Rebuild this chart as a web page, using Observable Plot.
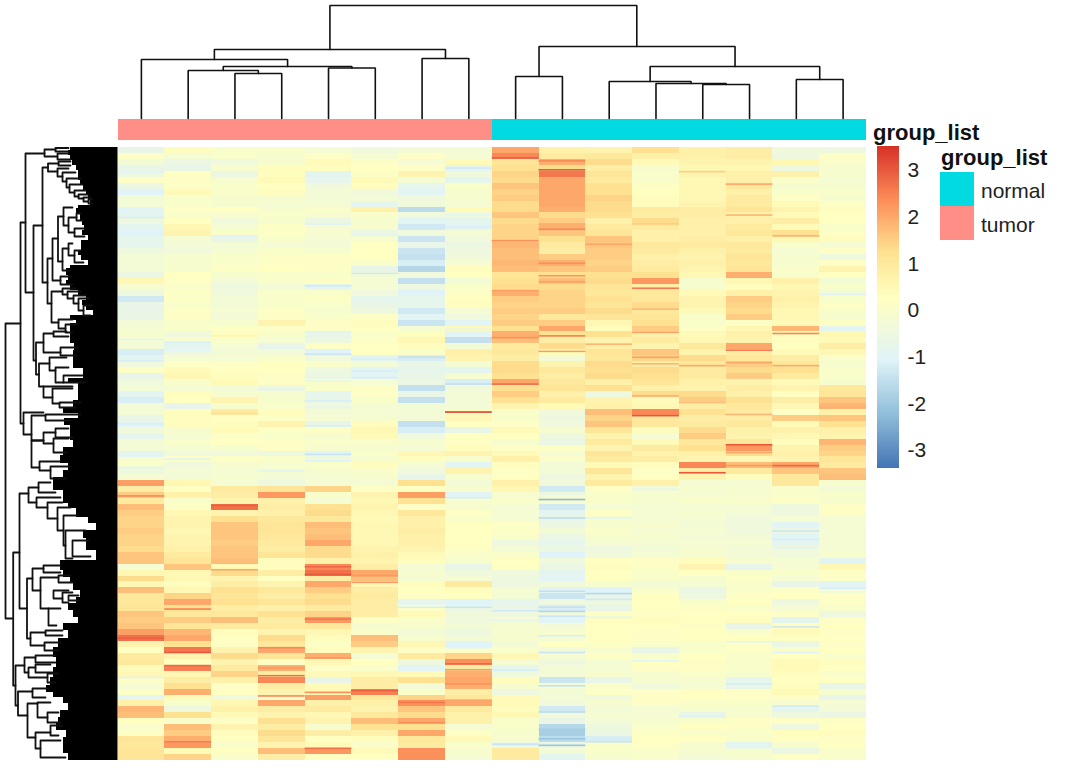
<!DOCTYPE html>
<html><head><meta charset="utf-8">
<script src="https://cdn.jsdelivr.net/npm/d3@7"></script>
<script src="https://cdn.jsdelivr.net/npm/@observablehq/plot@0.6"></script>
<style>
html,body{margin:0;padding:0;background:#fff}
#chart{position:relative;width:1080px;height:771px;overflow:hidden;font-family:"Liberation Sans",Arial,sans-serif;color:#111}
.t{position:absolute;white-space:nowrap}
.b{font-weight:bold;font-size:22px;line-height:24px;color:#111}
.l{font-size:21px;line-height:24px;color:#222}
.s{position:absolute;left:940px;width:34px;height:34px}
</style></head><body><div id="chart">
<div class="t b" style="left:873px;top:121px">group_list</div>
<div class="t b" style="left:941px;top:146px">group_list</div>
<div class="s" style="top:172px;background:#00DAE0"></div>
<div class="s" style="top:206px;background:#FF8E86"></div>
<div class="t l" style="left:981px;top:179px">normal</div>
<div class="t l" style="left:981px;top:213px">tumor</div>
</div>
<script>
// Heatmap columns, left to right; each has 103 rows, top to bottom (z-scored expression).
const c0=[-0.7,0.1,-0.3,-0.7,-0.5,0.1,-0.6,-1.1,-0.3,-0.3,
-1.0,-0.9,-0.5,-0.9,-1.1,-0.8,-0.8,-0.5,-0.3,-0.3,
-0.3,-0.6,0.5,-0.1,-0.5,-1.3,-0.7,-0.7,-0.7,-0.3,
-0.2,-0.1,-0.2,-0.3,-1.2,-0.9,-0.4,0.1,-0.7,-0.4,
-0.3,-0.9,-1.2,-0.3,-0.3,-0.7,-1.0,-0.4,-0.8,-0.3,
-0.3,-0.9,-0.1,0,-0.5,-0.2,
2.1,0.8,1.5,0.9,1.7,1.5,1.4,1.4,1.5,1.4,
1.4,1.3,1.6,1.6,-0.2,0.5,1.3,0.5,1.7,1.0,
1.0,1.1,1.6,1.5,1.6,2.1,2.7,0.6,0.2,0.9,
1.0,0.4,0.5,0.1,-0.2,0.1,-0.8,0.7,1.8,1.7,
0.2,0,0.1,1.1,1.0,1.1,1.1];
const c1=[0.3,-0.2,-0.6,-0.7,0.2,0.1,0.1,0.4,0,0,
0.1,0,0.2,0.5,0.6,-0.2,-0.3,-0.4,-0.1,-0.1,
-0.1,0.2,0.1,0,0.1,0.1,0,0.1,0.1,0,
0,-0.4,-0.1,-0.9,-0.5,-0.2,0.1,0.4,0.5,0,
-0.2,0.3,0.2,-0.7,0.3,0.3,0.3,-0.1,-0.2,0,
-0.2,-0.4,0.1,-0.4,-0.3,-0.3,
0.5,0.2,0.7,0,0.1,0.5,0.6,0.6,0.5,0.6,
0.6,0.7,0.9,1.1,1.6,0.5,0.5,0.3,0.5,1.4,
2.0,1.2,1.0,1.5,1.1,1.8,2.0,1.2,2.6,0.6,
0.2,2.5,0.5,0.8,1.2,1.9,0.4,0,-0.5,1.2,
0,1.7,1.5,1.9,2.2,0.4,1.4];
const c2=[0,0,-0.4,-0.1,-0.6,-0.1,0,0,-0.1,-0.1,
0.2,-0.1,-0.4,-0.2,0,-0.7,-0.3,-0.2,0,0,
0.1,-0.1,-0.3,-0.5,-0.4,-0.3,-0.3,-0.2,-0.3,-0.1,
0.1,0.3,0,-0.2,-0.3,-0.2,0.1,0.2,0.3,0.4,
-0.3,-0.1,0.6,-0.1,0.9,0.2,0.3,0.4,0.1,0.2,
-0.1,-0.4,0.1,-0.1,-0.2,-0.1,
-0.2,0.9,0.8,0.6,2.7,0.6,1.2,1.6,1.6,1.6,
1.5,1.6,1.6,1.7,0.4,1.3,0.6,0.8,1.2,1.1,
1.2,0.8,1.0,1.7,0.9,0.3,0.2,0.1,0.6,1.3,
0.6,0.9,1.4,0.7,0.1,0.2,-0.4,0.5,0.7,0.4,
0.1,0.6,0.3,0.2,0,0.2,0];
const c3=[0,-0.1,-0.1,0.3,0.3,0.4,0.2,0.3,-0.1,-0.2,
-0.1,0,-0.1,0.1,0.1,0,-0.2,0,0.1,0.1,
0.2,0,0,-0.3,0,0,0,0.1,0.1,0.6,
0.1,0,-0.2,-0.7,-0.3,0,0.2,0.2,0.1,0.1,
-0.5,-0.1,-0.1,0,0.3,0.1,0.6,0.1,0,0.1,
0.1,-0.5,0,-0.1,-0.1,-0.3,
-0.5,1.1,2.2,0.7,0.8,0.7,1.0,1.1,1.1,1.0,
0.9,0.8,1.1,0.3,0.3,0.8,0.2,0.6,1.0,0.8,
1.1,0.7,1.2,0.8,0.9,0.6,1.3,1.0,2.0,1.1,
0.1,1.9,0.8,2.4,0.8,0.6,-0.1,2.0,0.8,0.6,
1.2,0.8,1.3,1.1,0.6,1.7,0.8];
const c4=[-0.2,0.1,0.4,0.3,-0.9,-0.8,-0.4,-0.3,-0.3,-0.2,
0,-0.1,-0.6,-0.2,-0.1,-0.2,-0.3,-0.1,0.1,0.1,
0.1,0,0.1,-0.8,0,0.1,0,-0.1,0,0.1,
0.1,-0.7,-0.5,0.1,-1.1,-0.4,0,-0.5,-0.6,0,
0,-0.8,-0.7,-0.4,-0.3,-0.2,-0.7,0.1,-0.1,0,
-0.1,-1.1,-0.5,0,-0.1,-0.2,
-0.2,1.4,0,-0.2,1.2,1.3,1.0,1.7,1.6,1.7,
2.0,1.3,1.3,0.7,2.4,2.7,0.8,2.0,1.5,1.2,
1.3,0.9,1.4,2.2,1.0,0.5,0.3,0.1,0.3,1.9,
0.5,0.1,0.4,-0.7,0.4,0.5,2.1,0.7,0.9,0.5,
0.6,-0.1,0.8,0.2,0.4,2.2,0.2];
const c5=[-0.4,-0.2,0.1,0.2,0.1,0.4,0.3,-0.4,-0.3,-0.7,
0.7,0,-0.1,-0.1,-0.6,-0.1,0.2,0.2,0.2,0,
-0.7,-0.3,-0.2,-0.2,-0.4,-0.8,-0.7,-0.5,0.1,0.3,
0.2,0,0.1,0.2,0.2,-0.9,-0.3,-1.0,-1.0,-0.2,
0.1,0.1,0,-0.2,-0.2,-0.1,0.3,0.5,0.4,0,
-0.1,0,-0.1,0.3,0,-0.1,
-0.2,0.1,0.6,0.5,0.6,0.5,0.4,0.5,0.5,0.5,
0.5,0.6,0.7,0.6,0.8,2.0,1.7,0.5,0.8,0.9,
0.8,0.8,0.8,0.1,-0.1,0,1.7,1.5,0.6,-0.2,
0.2,0,0.5,0.8,0.8,2.5,1.0,0.7,0.6,1.0,
1.7,1.2,0.7,0.3,0,0.4,0.2];
const c6=[-0.3,0.1,-0.2,0.1,0.6,-0.2,-0.8,-1.0,-0.4,-0.4,
-1.6,-0.4,-1.0,-1.3,-0.4,-1.4,-0.7,-1.4,-1.5,-1.2,
-1.7,-0.4,-1.5,-0.5,-1.1,-0.8,-0.8,-1.3,-1.0,-1.4,
-0.2,0.3,0.5,0.3,0,-1.2,-0.7,-0.8,-0.7,-0.6,
-1.5,-0.7,-1.5,-0.3,-0.3,-0.3,-1.5,-1.2,-0.4,-0.1,
-0.2,0.5,0.3,-0.2,-0.4,-0.7,
1.2,0.2,2.1,1.2,0.1,1.0,0.7,0.7,0.8,0.7,
0.7,0.6,0.4,0.3,-0.2,-0.1,-0.2,0.3,0.2,0.1,
-0.8,0.1,0.4,0,-0.1,-0.3,-0.1,0.5,0.1,0.9,
-0.5,-1.0,0.4,1.2,-0.3,0,1.4,2.3,1.6,1.3,
2.0,1.2,2.0,1.0,0.9,2.3,2.3];
const c7=[-0.3,-0.2,0.4,-0.9,-0.4,-0.8,0,-0.1,-0.1,-0.2,
0.4,-0.4,-0.9,-1.0,-0.3,-0.4,-0.6,-0.5,-0.4,-0.2,
0.3,0.2,-0.3,0,0.1,0.2,0.3,-0.2,-0.4,-1.0,
0.4,-1.0,-1.5,-0.3,0.7,0.6,-0.2,-0.9,-0.1,-1.2,
-0.4,-0.3,-0.3,-0.3,0.3,0.5,0.2,-0.7,0.2,0.1,
0.3,0.6,-0.1,-1.0,0.6,-0.1,
-0.3,-0.1,-1.0,-0.1,-0.1,0.1,0,0.2,0.2,0.2,
0.2,0.1,0,-0.1,-0.7,-0.4,-0.2,0.9,0.3,0.2,
-1.1,-0.6,-0.4,-0.4,-0.3,-0.5,-0.3,-1.1,0.1,1.4,
2.3,0.8,1.9,2.0,1.9,0.8,1.0,2.0,0.9,0.7,
0.7,-0.2,0.1,0.4,0,-0.1,-0.2];
const c8=[2.0,2.4,1.1,1.2,1.4,1.3,1.6,1.4,1.5,1.3,
1.3,1.6,1.3,1.4,1.4,1.4,1.8,1.7,1.7,1.8,
1.7,1.1,1.2,1.3,1.9,1.5,1.4,1.5,1.4,1.5,
1.2,1.9,1.7,0.9,1.0,0.8,1.3,1.3,1.2,2.0,
1.2,1.5,1.2,0.6,0,0,0.1,0.4,0.2,-0.1,
0.1,0.4,0.7,0.3,0.1,0.2,
0.7,0.5,-0.1,0,-0.2,-0.2,-0.2,0.1,0.1,0,
-0.5,-0.3,0,0.2,0.2,-0.4,-0.5,-0.5,-0.2,-0.3,
-0.8,-0.7,-0.5,-0.2,-0.1,-0.1,-0.1,-0.3,0,0.5,
-0.2,-0.8,-0.4,0.3,-0.1,-0.5,0.4,0.4,0.3,0.5,
0,0,-0.1,-0.1,-0.6,0.9,0.9];
const c9=[0.7,0.9,1.9,1.3,2.6,2.0,2.0,2.0,2.0,2.0,
1.9,1.3,1.5,1.9,1.6,1.2,0.9,0.8,1.5,1.9,
1.6,1.2,1.7,1.3,1.4,1.4,1.4,1.5,1.0,1.5,
2.0,1.2,0.8,1.3,0.3,-0.3,0.6,1.0,0.8,1.0,
1.1,0.7,0.9,0.4,-0.4,-0.5,-0.4,-0.1,-0.5,-0.6,
0.1,-0.2,0,-0.3,-0.3,-0.5,
-0.4,-1.3,-0.3,-0.1,-1.3,-0.9,-0.7,-0.6,-0.3,-0.6,
-0.8,-0.6,-1.1,-0.4,-0.6,-0.9,-1.0,-0.4,-1.0,-1.4,
-0.5,-1.2,-0.4,-1.0,-0.3,-0.1,-0.2,0.2,-0.4,-0.2,
-0.5,-0.3,-0.3,-1.4,-0.2,-0.3,-0.3,-0.4,-1.3,-0.4,
-0.7,-1.7,-1.9,-1.6,-0.6,-0.3,-0.9];
const c10=[0.6,1.0,1.3,0.8,1.1,0.9,1.2,1.2,1.4,1.3,
1.3,1.2,0.7,0.9,1.1,1.6,1.6,1.5,1.5,1.4,
1.5,1.2,1.3,1.1,1.0,1.2,1.1,1.3,1.1,0.5,
0.3,1.2,0.6,0.8,1.1,1.0,1.3,1.2,1.3,0.7,
1.2,-0.5,0.6,0.7,1.7,1.4,1.6,1.1,0.6,0.9,
0.6,1.1,0.9,0.4,1.1,0.6,
0.9,0.1,0,0,-0.2,0.1,0,-0.1,0,-0.1,
-0.2,-0.5,-0.4,0.2,0.3,0.2,0.2,-0.1,-1.1,-0.8,
-0.5,-0.7,0.1,0.3,0.2,0.2,0.2,0.1,-0.1,0.1,
-0.2,-0.2,-0.1,-0.7,0,0.1,-0.4,-0.1,-0.3,-0.2,
-0.3,-0.5,-0.6,-1.2,0,0,-0.1];
const c11=[1.2,0.7,0.4,-0.1,0,0,0.1,0.2,0.3,0.3,
0.9,0.8,1.3,0.9,0.7,0.7,1.0,0.9,0.7,0.8,
0.9,1.2,2.2,0.8,1.0,1.0,1.3,1.0,1.1,1.2,
1.5,0.7,0.9,0.6,1.6,1.4,0.8,1.3,1.2,1.1,
0.7,1.3,0.4,0.5,2.4,1.0,1.0,0.3,-0.2,0.4,
0.9,0.6,0.8,0.3,0.1,0.2,
0.7,-0.3,-0.1,-0.1,-0.2,-0.2,-0.2,-0.1,-0.2,-0.1,
-0.2,-0.3,-0.2,0.1,0.1,0,0,-0.3,0,0.2,
0.2,0.2,0.1,0.3,0.2,0.1,0.1,0,-0.7,0,
0.2,0.1,-0.1,-0.1,-0.4,0.1,0.1,0.1,-0.2,-0.2,
-0.1,0,0.1,0.2,0.1,0,0];
const c12=[0.7,0.7,0.6,0.5,0.6,0.5,0.5,0.5,0.5,0.6,
0.8,0.8,0.7,0.7,0.7,0.8,0.9,0.7,0.6,0.7,
0.6,0.5,-0.1,-0.1,0.4,0.6,0.6,0.4,0,0,
0.1,0.4,0.5,1.0,0.6,1.3,1.0,0.9,0.9,0.7,
0.6,1.3,1.5,0.8,1.2,0.8,0.9,1.3,1.5,1.0,
1.2,0.7,0.6,2.4,0.8,0.6,
-0.2,-0.1,-0.2,0,-0.2,-0.1,-0.2,-0.3,-0.2,-0.3,
-0.2,-0.1,-0.1,0.3,0.6,0.2,-0.1,-0.2,-0.6,-0.5,
0,0.1,0.2,0.2,0.1,0.2,0.2,0,0,0.2,
0.1,0.1,0,-0.1,-0.2,0.2,0.2,0,-0.1,-0.7,
0,0.2,0,0.2,-0.1,-0.1,-0.3];
const c13=[0.8,0.8,0.6,0.5,0.7,0.7,1.0,0.7,0.9,0.9,
1.1,0.7,0.7,0.9,1.0,0.7,1.0,0.9,1.1,1.0,
1.1,1.9,0.5,0.3,0.7,1.5,1.4,1.3,1.5,0.1,
0.5,0.7,0.6,2.0,0.8,1.0,1.5,1.3,1.5,0.6,
0.8,0.7,1.2,1.0,0.9,0.8,1.0,0.7,0.6,1.0,
2.2,1.3,0.5,1.7,0.9,0.3,
-0.2,-0.1,-0.1,0,-0.2,-0.3,-0.4,-0.4,-0.4,-0.3,
-0.2,-0.3,-0.3,-0.1,-0.7,0,0.1,0,0,0.1,
0.2,0,0.2,0.3,-0.7,0,0.2,0.1,0.1,0,
0,0,-0.1,-0.8,-0.7,0.1,0.1,0,-0.1,-0.1,
0.1,0.1,0,0,-0.9,-0.1,-0.1];
const c14=[-0.4,-0.5,0.5,-0.5,0.7,0,-0.1,0,0.1,0.4,
0.6,0.4,0.8,0.4,1.2,0.5,0,-0.2,-0.1,-0.1,
0,0,0.7,0.5,0.6,0.7,0.6,0.5,0.5,0.4,
1.8,0.3,0.3,0.2,0.4,0.8,1.0,1.2,0.9,0.4,
0.6,0.2,0.8,0.5,0.1,1.5,0.4,0.7,0.5,0.3,
0.6,0.7,0.6,2.0,1.6,1.0,
1.0,0,0,0.1,-0.5,-0.5,-0.2,-1.0,-0.6,-1.0,
-0.9,-0.4,-0.4,-0.2,-0.2,0,-0.2,-0.7,0.1,0.2,
-0.5,-0.2,0.1,-0.9,0.3,0.4,0.2,-0.6,0,0.2,
0.4,0.4,0.3,0.2,0.3,0.4,0.1,-0.1,-0.9,-0.5,
0.1,-0.5,0.3,0.2,-0.1,-0.6,0.1];
const c15=[-0.5,0.1,0,-0.1,-0.1,-0.2,-0.1,0,-0.1,0.1,
0.3,0.2,0.2,0,0.1,0.3,-0.2,0.1,-0.5,0.1,
0.6,0.2,-0.3,0,-0.3,0,0.1,0,-0.1,0.1,
-0.8,0.5,0.4,0.8,0.5,0,-0.1,0,0,-0.1,
1.0,1.1,1.6,1.8,0.7,1.6,1.2,0.7,0.6,1.8,
1.5,1.4,1.1,0.9,1.6,1.7,
-0.1,-0.3,0,-0.1,0.1,0.1,-0.2,-0.2,-0.2,-0.2,
-0.2,-0.2,-0.1,-0.9,0.5,0.1,0.1,-1.0,-0.3,0.1,
0.1,0,-0.5,0.1,0.2,0.1,0.2,0.1,0.2,0,
0.3,0.2,0,0.2,-0.7,-0.1,-0.7,-0.2,-0.3,-0.6,
0.1,0.2,0.3,0.1,0.2,0,0];
const matrix=[c0,c1,c2,c3,c4,c5,c6,c7,c8,c9,c10,c11,c12,c13,c14,c15];

// Hairline rows: [column, row position, value]
const hairlines=[[7,44.4,3.3],[0,82.4,2.9],[1,84.8,3.0],[8,1.7,2.9],[9,3.7,3.0],[11,45,3.0],[11,23.6,2.6],
[12,54.6,3.0],[13,49.9,3.0],[13,34,2.6],[14,53.4,2.8],[2,60.1,2.9],[4,71.7,3.0],[5,91.2,2.9],[3,88.7,2.7],
[0,4.1,-1.0],[0,11.7,-1.2],[0,32.2,-0.9],[0,35.8,-1.2],[0,41.1,-1.0],[0,46.4,-1.2],[0,48.4,-1.0],[0,51.8,-1.1],[0,53.7,-1.0],
[1,32.7,-1.2],[1,34,-1.0],[1,43.6,-1.0],[1,52.3,-1.0],[2,14.8,-1.1],[2,31.6,0.6],[2,44.6,1.2],[3,33.6,-1.0],[3,40.6,-1.0],[3,54.3,-1.0],
[4,12.8,-1.1],[4,23.2,-1.3],[4,30.9,-1.1],[4,31.9,-0.8],[4,34.7,-1.4],[4,39.2,-0.8],[4,42.5,-1.2],[4,43.6,-1.0],[4,46.7,-1.2],[4,51.5,-1.4],[4,52.6,-1.1],
[5,9.5,-1.1],[5,14.7,-1.0],[5,21.1,-1.3],[5,35.5,-1.2],[5,37.5,-1.2],[5,38.6,-1.2],[6,35.2,-1.5],[6,55.5,-1.0],
[7,3.4,-1.3],[7,5.3,-1.1],[7,11.3,-0.9],[7,13.3,-1.2],[7,30.5,-1.1],[7,39.7,-1.5],
[8,15.6,2.3],[8,31.9,2.3],[8,39.7,2.7],[8,24,2.1],[9,2.2,2.4],[9,12.8,1.9],[9,13.7,2.4],[9,19.4,2.3],[9,21.5,2.2],[9,22.5,2.1],[9,31.6,2.5],[9,34.2,2.1],
[10,16.2,2.0],[10,33,1.8],[11,12.8,1.5],[11,35.2,2.1],[11,36.3,1.8],[11,41.7,1.9],[11,27.1,1.8],[11,31,2.1],[12,4,1.5],[12,36.6,2.0],[12,42.8,1.7],
[13,6.1,2.0],[13,11.3,1.8],[13,36.1,2.0],[13,44.8,1.8],[13,51.2,2.0],[13,53.4,2.2],[14,14.8,1.9],[14,31.2,2.4],[14,36.6,2.0],[15,24.6,-1.0],[15,30.3,-1.1],[15,43.6,1.9],
[0,89,-1.1],[0,92.1,-1.0],[0,58.5,2.4],[1,77.5,2.5],[1,87,2.8],[1,99.8,2.5],[2,70.9,2.0],[3,84,2.4],[3,87.4,2.2],[3,92.1,2.4],
[4,70.4,2.8],[4,79.2,2.6],[4,85.7,2.2],[4,91.5,2.3],[4,100.9,2.7],[5,71.9,2.2],[5,73,2.2],[6,77.2,-1.2],[6,87.2,-1.0],[6,93.2,2.6],[6,96.6,2.3],
[7,58.8,-1.2],[7,77.2,-1.4],[7,84,-1.1],[7,86.7,2.8],[7,87.7,2.2],[7,90.1,2.3],[7,92.8,2.0],
[8,77.8,-1.3],[8,87.8,-1.2],[8,100.2,-1.4],[8,79.4,-0.9],[9,58.1,-1.0],[9,59.1,-2.3],[9,62.2,-1.6],[9,74.5,-1.5],[9,77.2,-1.5],[9,77.9,-1.7],[9,78.7,-1.4],
[9,82,-1.2],[9,84.8,-1.4],[9,90.4,-1.5],[9,94.8,-1.6],[9,97.7,-1.9],[9,99.3,-2.1],[9,100.4,-2.1],[10,62.2,-1.0],[10,74.9,-1.7],[10,75.9,-1.3],[10,78.9,-1.1],[10,99.8,-1.4],
[11,57.4,-0.9],[11,86.2,-1.0],[12,95.5,-1.1],[13,70.8,-1.0],[13,83,-1.0],[13,90.1,-1.2],[13,100.8,-1.0],
[14,64.4,-1.4],[14,65.8,-1.2],[14,67.2,-1.1],[14,80.5,-1.4],[14,84.8,-1.1],[14,93.8,-1.3],[15,69.8,-1.1],[15,74,-1.2]];

const groupNames=["tumor","normal"];
const groupColumns=[[0,8],[8,16]];
const groupColors=["#FF8E86","#00DAE0"];

// Column dendrogram merges: [x1, h1, x2, h2, height]
const topMerges=[[2.5,0,3.5,0,45],[1.5,0,3,45,48],[4.5,0,5.5,0,50.5],[2.25,48,5,50.5,52],[0.5,0,3.625,52,59],
[6.5,0,7.5,0,60],[2.06,59,7,60,69],[8.5,0,9.5,0,42],[12.5,0,13.5,0,34],[11.5,0,13,34,35],[10.5,0,12.25,35,37],
[14.5,0,15.5,0,39],[11.375,37,15,39,52],[9,42,13.19,52,72],[4.53,69,11.09,72,113]];

// Row dendrogram merges: [leaf1, leaf2, depth, depth1, depth2]
const leftMerges=[[176,471,5,20,12.7],[75,276,20,25,23],[6,145,25,44,33],[2,9,44,55,57],[0.5,4,55,68,68],[6,12,57,68,70],
[78,213,33,42,35.5],[20,135,42,47.5,47],[16,24,47.5,58,57],[14,18,58,70,70],[21,29,57,68,62],[25,34,62,75,66],[31,40,66,80,69],
[37,45,69,82,74],[43,49,74,85,78],[47,51,78,88,83],[50,54,83,90,88],[52,56,88,92,92],[111,156,47,52,51],[91,133,52,57.5,60],
[69,114,57.5,63,62],[60,78,63,72,68],[70,85,68,76,74],[66,73,76,80,82],[81,89,74,84,84],[101,123,62,68,70],[96,108,68,72,74],
[103,115,74,80,83],[129,137,60,70,72],[144,175,51,62,58],[141,147,62,75,67],[144,151,67,80,73],[148,156,73,85,78],[151,163,78,88,83],
[158,168,83,92,90],[172,181,58,72,65],[177,185,65,78,72],[195,227,35.5,43,38.5],[186,205,43,53,60],[184,189,53,66,68],[200,208,60,78,76],
[216,239,38.5,49,43],[210,223,49,66,55],[220,235,55,68,63],[228,235,63,82,85],[239,250,43,72,52],[241,256,52,72,59],[255,260,59,80,75],
[265,287,23,43,31],[268,293,31,45,43],[293,320,31,43,39],[267,273,45,80,70],[285,296,43,55,53],[281,290,55,68,72],[291,305,53,68,66],
[314,323,39,60,50],[319,331,50,70,65],[405,538,12.7,19,15],[346,461,19,28,26.5],[340,355,28,38,36],[335,345,38,50,55],[350,360,36,60,47],
[355,371,47,62,57],[360,383,57,70,63],[368,398,63,78,65],[383,411,65,85,72],[393,409,72,88,90],[431,491,26.5,32,30],[421,443,32,43,40],
[418,425,43,60,60],[430,461,40,58,48],[428,435,58,70,72],[461,478,48,60,56],[443,451,53,68,62],[445,455,62,72,68],[448,453,68,78,78],
[485,498,30,45,44],[483,488,45,62,62],[495,503,44,60,58],[518,558,15,24,17.5],[510,525,24,35,28],[508,515,35,55,55],[520,530,28,35,47],
[517,525,35,50,52],[526,535,47,58,55],[544,568,17.5,32,27],[541,550,32,48,45],[556,590,27,37,35],[555,570,37,50,47],[565,575,47,58,60],
[585,601,35,50,40],[578,588,50,62,58],[593,610,40,60,65]];

// Depth at which the dense leaf branches of the row dendrogram begin.
const denseLeaf=[0,3,8,13,18,23,28,33,38,43,48,53,58,61,67,73,78,83,88,93,98,103,108,113,118,121,128,133,138,143,148,153,158,163,168,170,173,176,183,190,196,203,213,221,231,236,243,253,260,266,271,278,286,293,300,308,316,323,330,335,343,350,356,361,370,376,383,391,403,413,416,423,430,436,443,450,456,463,470,476,483,491,500,510,520,530,538,545,550,556,563,570,576,583,590,600,606,613];
const denseDepth=[66,70,68,70,72,76,78,78,80,83,86,88,90,78,76,80,82,84,82,88,81,81,78,81,88,70,66,68,66,70,78,86,82,86,93,70,70,76,70,70,70,74,73,73,83,68,78,78,73,63,78,64,70,70,73,63,60,68,63,53,53,63,63,68,76,88,96,83,86,96,60,60,63,70,73,80,76,68,73,78,63,68,58,53,56,53,50,46,53,63,68,60,58,56,66,63,63,68];

// Colour-key ticks and ramp limits
const keyTicks=[3,2,1,0,-1,-2,-3];
const keyMin=-3.38, keyMax=3.49;
const rampColors=["#4575B4","#91BFDB","#E0F3F8","#FFFFBF","#FEE090","#FC8D59","#D73027"];
const rampStops=[-3.38,-2.23,-1.09,0.25,1.25,2.34,3.49];

const color={type:"linear",domain:rampStops,range:rampColors,clamp:true};
const W=1080,H=771;
const base={width:W,height:H,marginTop:0,marginRight:0,marginBottom:0,marginLeft:0,
  style:{position:"absolute",left:"0",top:"0",background:"transparent"}};
const hx={domain:[0,16],range:[117.5,866],axis:null};
const root=document.getElementById("chart");

// Heatmap
const cells=matrix.flatMap((col,c)=>col.map((v,r)=>({c,r,v})));
const hairRects=hairlines.map(([c,r,v])=>({c,r,v}));
root.append(Plot.plot({...base,x:hx,y:{domain:[0,103],range:[147,760],axis:null},color,marks:[
  Plot.rect(cells,{x1:"c",x2:d=>d.c+1,y1:"r",y2:d=>d.r+1,fill:"v",shapeRendering:"crispEdges"}),
  Plot.rect(hairRects,{x1:"c",x2:d=>d.c+1,y1:"r",y2:d=>d.r+0.27,fill:"v"})
]}));

// Annotation bar
root.append(Plot.plot({...base,x:hx,y:{domain:[0,1],range:[140,119],axis:null},marks:[
  Plot.rect(groupNames,{x1:(d,i)=>groupColumns[i][0],x2:(d,i)=>groupColumns[i][1],y1:0,y2:1,fill:(d,i)=>groupColors[i],shapeRendering:"crispEdges"})
]}));

// Column dendrogram
const topPts=topMerges.flatMap((m,i)=>[[m[0],m[1],i],[m[0],m[4],i],[m[2],m[4],i],[m[2],m[3],i]]);
root.append(Plot.plot({...base,x:hx,y:{domain:[0,113],range:[118,5],axis:null},marks:[
  Plot.line(topPts,{x:d=>d[0],y:d=>d[1],z:d=>d[2],stroke:"#111",strokeWidth:1.6,curve:"linear",strokeLinejoin:"miter"})
]}));

// Row dendrogram
const leftPts=leftMerges.flatMap((m,i)=>[[m[3],m[0],i],[m[2],m[0],i],[m[2],m[1],i],[m[4],m[1],i]]);
const dense=denseLeaf.map((l,i)=>({l,d:denseDepth[i]}));
root.append(Plot.plot({...base,x:{domain:[0,117.5],range:[0,117.5],axis:null},y:{domain:[0,613],range:[147,760],axis:null},marks:[
  Plot.areaX(dense,{y:"l",x1:117.5,x2:"d",fill:"#000",curve:"step-after"}),
  Plot.line(leftPts,{x:d=>d[0],y:d=>d[1],z:d=>d[2],stroke:"#111",strokeWidth:1.8,curve:"linear"})
]}));

// Colour key
const ramp=d3.range(keyMin,keyMax,0.04);
root.append(Plot.plot({...base,x:{domain:[0,1],range:[877,899],axis:null},y:{domain:[keyMin,keyMax],range:[468,147],axis:null},color,marks:[
  Plot.rect(ramp,{x1:0,x2:1,y1:d=>d,y2:d=>d+0.045,fill:d=>d,shapeRendering:"crispEdges"}),
  Plot.text(keyTicks,{x:1.36,y:d=>d,text:d=>String(d),textAnchor:"start",fontSize:21,fill:"#222",fontFamily:"Liberation Sans, Arial, sans-serif"})
]}));
</script></body></html>
